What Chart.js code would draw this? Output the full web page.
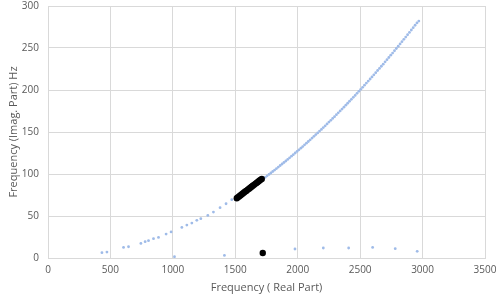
<!DOCTYPE html>
<html lang="en">
<head>
<meta charset="UTF-8">
<title>Frequency plot</title>
<script src="https://cdn.jsdelivr.net/npm/chart.js@4.4.1/dist/chart.umd.min.js"></script>
<style>
    html, body { margin: 0; padding: 0; background: #fff; }
    .wrap { width: 500px; height: 298px; }
</style>
</head>
<body>
<div class="wrap"><canvas id="chart" width="500" height="298"></canvas></div>
<script>
// blue series, lower branch (real part, imag part)
const lowX = [432, 472, 605, 645, 744, 778, 805, 845, 885, 946, 986, 1072, 1112, 1152, 1192, 1224, 1280, 1325, 1378, 1426, 1472];
const lowY = [6.3, 7.1, 12.6, 13.4, 17.4, 19.4, 20.6, 23, 24.5, 28.5, 31, 36.4, 39.2, 41.6, 44.8, 46.8, 50.7, 54.7, 59.9, 64.6, 69.4];

// blue series, upper branch
const highX = [1725, 1740, 1755, 1770, 1785, 1800, 1815, 1830, 1845, 1860, 1875, 1890, 1905, 1920, 1935, 1950, 1965, 1980, 1995,
    2010, 2025, 2040, 2055, 2070, 2085, 2100, 2115, 2130, 2145, 2160, 2175, 2190, 2205, 2220, 2235, 2250, 2265, 2280, 2295,
    2310, 2325, 2340, 2355, 2370, 2385, 2400, 2415, 2430, 2445, 2460, 2475, 2490, 2505, 2520, 2535, 2550, 2565, 2580, 2595,
    2610, 2625, 2640, 2655, 2670, 2685, 2700, 2715, 2730, 2745, 2760, 2775, 2790, 2805, 2820, 2835, 2850, 2865, 2880, 2895,
    2910, 2925, 2940, 2955, 2970];
const highY = [94.4, 96.1, 97.8, 99.5, 101.2, 103, 104.7, 106.5, 108.3, 110.1, 111.9, 113.7, 115.5, 117.4, 119.3, 121.2, 123, 125, 126.9,
    128.8, 130.7, 132.7, 134.7, 136.7, 138.7, 140.7, 142.8, 144.8, 146.9, 148.9, 151.1, 153.1, 155.3, 157.4, 159.6, 161.8, 163.9, 166.2, 168.3,
    170.6, 172.8, 175.1, 177.3, 179.6, 181.9, 184.2, 186.6, 188.9, 191.3, 193.6, 196, 198.4, 200.8, 203.2, 205.7, 208.2, 210.6, 213.1, 215.6,
    218.1, 220.6, 223.2, 225.7, 228.3, 230.8, 233.5, 236.1, 238.7, 241.4, 244, 246.7, 249.4, 252.1, 254.8, 257.5, 260.3, 263, 265.8, 268.6,
    271.4, 274.2, 277.1, 279.8, 282];

// blue series, stray points near the axis
const strayX = [1013, 1413, 1978, 2205, 2408, 2600, 2781, 2957];
const strayY = [1.5, 3.1, 10.7, 11.9, 11.9, 12.6, 11.1, 7.9];

// black series
const blackX = [1512, 1520, 1530, 1540, 1550, 1560, 1570, 1580, 1590, 1600, 1610, 1620, 1630, 1640, 1650, 1660, 1670, 1680, 1690, 1700, 1712, 1720];
const blackY = [71.2, 72.2, 73.3, 74.5, 75.6, 76.8, 77.9, 79.1, 80.2, 81.4, 82.5, 83.7, 84.8, 86, 87.1, 88.3, 89.4, 90.6, 91.7, 92.9, 94, 6];

const xTitle = 'Frequency ( Real Part)';
const yTitle = 'Frequency (Imag. Part) Hz';

function toPoints(xs, ys) {
    return xs.map((x, i) => ({ x: x, y: ys[i] }));
}

const textColor = '#595959';
const gridColor = '#d9d9d9';
const font = { family: 'Open Sans', size: 10 };
const blue = '#9fbbe8';

const bluePoints = toPoints(lowX, lowY).concat(toPoints(highX, highY), toPoints(strayX, strayY));

new Chart(document.getElementById('chart').getContext('2d'), {
    type: 'scatter',
    data: {
        datasets: [
            {
                label: 'black',
                data: toPoints(blackX, blackY),
                backgroundColor: '#000000',
                borderColor: '#000000',
                pointRadius: 3.2,
                borderWidth: 0
            },
            {
                label: 'blue',
                data: bluePoints,
                backgroundColor: blue,
                borderColor: blue,
                pointRadius: 1.4,
                borderWidth: 0
            }
        ]
    },
    options: {
        responsive: false,
        animation: false,
        layout: { padding: { left: 0, right: 15, top: 0, bottom: 0 } },
        plugins: {
            legend: { display: false },
            tooltip: { enabled: false }
        },
        scales: {
            x: {
                type: 'linear',
                min: 0,
                max: 3500,
                // tick marks are kept invisible and used as the gap to the labels
                ticks: { stepSize: 500, color: textColor, font: font, padding: 0, maxRotation: 0, callback: v => String(v) },
                grid: { color: gridColor, drawTicks: true, tickLength: 6, tickColor: 'rgba(0,0,0,0)' },
                border: { color: gridColor },
                title: { display: true, text: xTitle, color: textColor, font: { family: 'Open Sans', size: 11 }, padding: { top: 2 } },
                afterFit: function (scale) { scale.height = 40; }
            },
            y: {
                min: 0,
                max: 300,
                ticks: { stepSize: 50, color: textColor, font: font, padding: 0, callback: v => String(v) },
                grid: { color: gridColor, drawTicks: true, tickLength: 9, tickColor: 'rgba(0,0,0,0)' },
                border: { display: false },
                title: { display: true, text: yTitle, color: textColor, font: { family: 'Open Sans', size: 11 }, padding: { top: 7, bottom: 2 } },
                afterFit: function (scale) { scale.width = 48; }
            }
        }
    }
});
</script>
</body>
</html>
